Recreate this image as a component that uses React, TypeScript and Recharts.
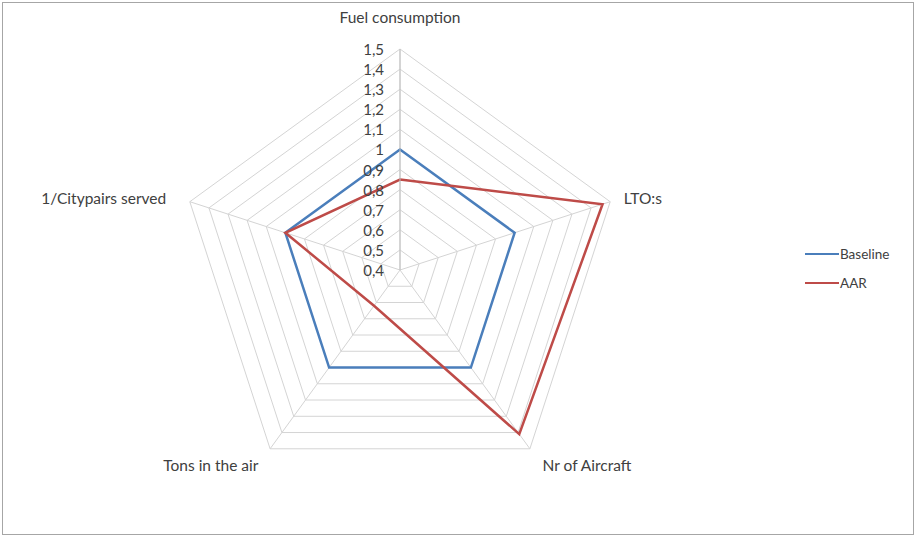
import React from 'react';
import {
  RadarChart,
  Radar,
  PolarGrid,
  PolarAngleAxis,
  PolarRadiusAxis,
} from 'recharts';

const categories = ['Fuel consumption', 'LTO:s', 'Nr of Aircraft', 'Tons in the air', '1/Citypairs served'];
const baseline = [1, 1, 1, 1, 1];
const aar = [0.85, 1.46, 1.41, 0.62, 1];
const radiusTicks = [0.4, 0.5, 0.6, 0.7, 0.8, 0.9, 1, 1.1, 1.2, 1.3, 1.4, 1.5];

const data = categories.map((axis, i) => ({ axis, baseline: baseline[i], aar: aar[i] }));

const CX = 400;
const CY = 270;
const FONT = 'Lato, "Open Sans", sans-serif';
const TEXT = '#404040';
const BLUE = '#4a7ebb';
const RED = '#be4b48';

const fmt = (v: number) => String(Math.round(v * 10) / 10).replace('.', ',');

// category labels sit a bit further out than recharts puts them
function AngleTick(props: any) {
  const { x, y, payload } = props;
  let tx = x;
  let ty = y;
  let anchor = 'middle';
  if (Math.abs(x - CX) < 2) {
    ty = y - 24;
  } else if (y > CY) {
    ty = y + 10;
    anchor = x > CX ? 'start' : 'end';
    tx = x > CX ? x + 8 : x - 7;
  } else {
    anchor = x > CX ? 'start' : 'end';
    tx = x > CX ? x + 6 : x - 16;
    ty = y - 1;
  }
  return (
    <text
      x={tx}
      y={ty}
      textAnchor={anchor}
      dominantBaseline="central"
      fontSize={15.5}
      fontFamily={FONT}
      fill={TEXT}
    >
      {payload.value}
    </text>
  );
}

function RadiusTick(props: any) {
  const { x, y, payload } = props;
  return (
    <text
      x={x - 16}
      y={y}
      textAnchor="end"
      dominantBaseline="central"
      fontSize={15}
      fontFamily={FONT}
      fill={TEXT}
    >
      {fmt(payload.value)}
    </text>
  );
}

function LegendBox() {
  const items = [
    { name: 'Baseline', color: BLUE },
    { name: 'AAR', color: RED },
  ];
  return (
    <div style={{ position: 'absolute', left: 805, top: 244, fontFamily: FONT, fontSize: 13.5, color: TEXT }}>
      {items.map((it) => (
        <div key={it.name} style={{ display: 'flex', alignItems: 'center', height: 20, marginBottom: 9 }}>
          <div style={{ width: 34, height: 2.5, background: it.color, marginRight: 1 }} />
          <span>{it.name}</span>
        </div>
      ))}
    </div>
  );
}

export default function App() {
  return (
    <div style={{ position: 'fixed', left: 0, top: 0, width: 915, height: 537, background: '#fff' }}>
      <div
        style={{
          position: 'absolute',
          left: 2,
          top: 2,
          width: 910,
          height: 531,
          border: '1.5px solid #a6a6a6',
        }}
      />
      <RadarChart
        width={915}
        height={537}
        data={data}
        cx={CX}
        cy={CY}
        outerRadius={221}
        style={{ position: 'absolute', left: 0, top: 0 }}
      >
        <PolarGrid gridType="polygon" stroke="#d4d4d4" strokeWidth={1} />
        <PolarAngleAxis dataKey="axis" tick={<AngleTick />} tickLine={false} axisLine={false} />
        <PolarRadiusAxis
          angle={90}
          type="number"
          domain={[radiusTicks[0], radiusTicks[radiusTicks.length - 1]]}
          ticks={radiusTicks as any}
          tickCount={radiusTicks.length}
          allowDecimals
          allowDataOverflow
          tick={<RadiusTick />}
          axisLine={{ stroke: '#bfbfbf' }}
          tickLine={false}
        />
        <Radar
          name="Baseline"
          dataKey="baseline"
          stroke={BLUE}
          strokeWidth={2.5}
          fill="none"
          fillOpacity={0}
          dot={false}
          isAnimationActive={false}
        />
        <Radar
          name="AAR"
          dataKey="aar"
          stroke={RED}
          strokeWidth={2.5}
          fill="none"
          fillOpacity={0}
          dot={false}
          isAnimationActive={false}
        />
      </RadarChart>
      <LegendBox />
    </div>
  );
}
